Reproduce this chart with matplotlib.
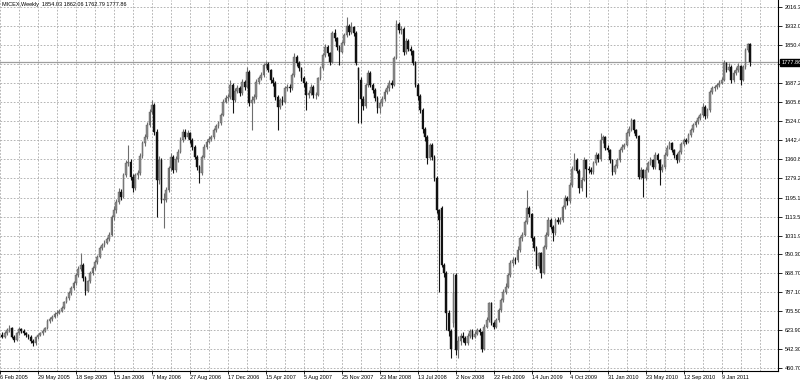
import numpy as np
import matplotlib
matplotlib.use('Agg')
import matplotlib.pyplot as plt
import matplotlib.transforms as mtransforms

# Weekly MICEX bars (index 1..316), rows of 8 bars = one grid cell
closes = [
    597, 611, 625, 633, 597, 582, 611, 628,
    622, 611, 604, 597, 580, 568, 594, 604,
    611, 622, 633, 665, 672, 683, 694, 700,
    709, 719, 747, 762, 783, 805, 826, 862,
    890, 905, 850, 795, 835, 870, 891, 919,
    941, 977, 991, 1001, 1015, 1034, 1113, 1142,
    1177, 1220, 1199, 1292, 1342, 1350, 1285, 1235,
    1292, 1299, 1374, 1428, 1457, 1507, 1565, 1593,
    1479, 1271, 1357, 1185, 1185, 1228, 1321, 1371,
    1314, 1360, 1393, 1443, 1479, 1457, 1471, 1443,
    1414, 1371, 1328, 1299, 1371, 1414, 1436, 1446,
    1454, 1486, 1503, 1514, 1550, 1608, 1622, 1629,
    1679, 1615, 1655, 1665, 1643, 1694, 1672, 1737,
    1600, 1615, 1629, 1694, 1708, 1722, 1765, 1770,
    1744, 1701, 1687, 1626, 1586, 1615, 1608, 1665,
    1672, 1665, 1722, 1801, 1773, 1751, 1708, 1687,
    1636, 1643, 1672, 1636, 1636, 1708, 1751, 1808,
    1844, 1816, 1780, 1902, 1880, 1844, 1823, 1859,
    1894, 1933, 1909, 1927, 1902, 1773, 1701, 1620,
    1590, 1680, 1730, 1680, 1660, 1625, 1580, 1600,
    1620, 1650, 1665, 1690, 1680, 1795, 1940, 1915,
    1920, 1820, 1870, 1835, 1825, 1775, 1680, 1630,
    1572, 1490, 1457, 1364, 1420, 1370, 1280, 1140,
    1100, 905, 870, 700, 620, 545, 783, 540,
    580, 600, 590, 570, 600, 620, 597, 610,
    625, 615, 545, 640, 668, 740, 654, 640,
    668, 711, 754, 790, 812, 860, 912, 927,
    925, 970, 1020, 1034, 1090, 1150, 1125, 1020,
    977, 900, 955, 870, 984, 1034, 1099, 1070,
    1041, 1099, 1091, 1099, 1156, 1192, 1180, 1250,
    1320, 1357, 1310, 1235, 1271, 1357, 1320, 1314,
    1306, 1342, 1378, 1360, 1443, 1457, 1410, 1400,
    1357, 1306, 1330, 1357, 1400, 1414, 1421, 1471,
    1490, 1529, 1486, 1460, 1285, 1314, 1280, 1314,
    1342, 1357, 1328, 1380, 1357, 1314, 1328, 1380,
    1410, 1428, 1400, 1378, 1357, 1390, 1425, 1443,
    1435, 1464, 1486, 1507, 1520, 1536, 1550, 1586,
    1545, 1572, 1650, 1665, 1670, 1679, 1690, 1701,
    1773, 1745, 1758, 1701, 1730, 1744, 1760, 1700,
    1755, 1830, 1854.03, 1777.86,
]

highs = [
    615, 620, 632, 645, 638, 602, 616, 640,
    636, 628, 616, 610, 602, 588, 600, 610,
    618, 628, 640, 672, 682, 690, 702, 710,
    716, 728, 752, 770, 792, 815, 836, 872,
    902, 955, 915, 858, 842, 880, 900, 928,
    950, 985, 1000, 1012, 1025, 1045, 1120, 1158,
    1190, 1235, 1232, 1300, 1355, 1421, 1362, 1295,
    1300, 1315, 1385, 1440, 1470, 1520, 1578, 1615,
    1600, 1490, 1375, 1365, 1215, 1240, 1330, 1385,
    1380, 1372, 1405, 1455, 1492, 1490, 1485, 1478,
    1450, 1420, 1380, 1335, 1380, 1425, 1448, 1460,
    1466, 1495, 1512, 1526, 1560, 1618, 1635, 1640,
    1701, 1688, 1665, 1680, 1675, 1705, 1702, 1758,
    1745, 1630, 1640, 1705, 1720, 1735, 1775, 1782,
    1778, 1750, 1712, 1695, 1635, 1625, 1630, 1675,
    1685, 1682, 1730, 1816, 1810, 1782, 1758, 1718,
    1695, 1660, 1685, 1680, 1650, 1715, 1760, 1818,
    1855, 1852, 1822, 1910, 1920, 1888, 1852, 1870,
    1905, 1973, 1942, 1950, 1935, 1912, 1755, 1712,
    1630, 1690, 1745, 1738, 1690, 1668, 1632, 1612,
    1632, 1662, 1678, 1702, 1700, 1805, 1960, 1950,
    1935, 1928, 1880, 1878, 1848, 1832, 1782, 1690,
    1640, 1580, 1500, 1465, 1432, 1428, 1378, 1290,
    1148, 1160, 915, 880, 712, 630, 869, 870,
    600, 612, 615, 598, 612, 630, 628, 622,
    635, 632, 620, 650, 680, 748, 745, 662,
    678, 720, 765, 800, 826, 870, 927, 940,
    938, 985, 1030, 1045, 1100, 1228, 1160, 1130,
    1028, 985, 962, 962, 992, 1045, 1110, 1108,
    1078, 1108, 1110, 1112, 1165, 1205, 1200, 1260,
    1330, 1385, 1365, 1318, 1282, 1368, 1362, 1330,
    1325, 1352, 1390, 1388, 1471, 1465, 1462, 1420,
    1405, 1362, 1340, 1365, 1410, 1425, 1432, 1480,
    1502, 1536, 1532, 1492, 1465, 1325, 1320, 1325,
    1352, 1368, 1362, 1393, 1388, 1362, 1338, 1390,
    1420, 1440, 1435, 1405, 1385, 1400, 1436, 1452,
    1452, 1472, 1495, 1516, 1530, 1545, 1560, 1600,
    1592, 1582, 1660, 1675, 1680, 1690, 1700, 1712,
    1785, 1780, 1772, 1765, 1742, 1755, 1775, 1765,
    1765, 1840, 1861, 1862.06,
]

lows = [
    590, 592, 606, 618, 590, 572, 578, 605,
    612, 603, 596, 588, 570, 556, 562, 588,
    598, 606, 616, 628, 656, 665, 676, 686,
    694, 702, 714, 740, 755, 776, 798, 818,
    852, 880, 838, 776, 788, 828, 862, 884,
    910, 935, 968, 982, 994, 1008, 1030, 1100,
    1130, 1168, 1185, 1192, 1282, 1330, 1270, 1220,
    1228, 1275, 1292, 1365, 1415, 1448, 1498, 1555,
    1465, 1113, 1255, 1170, 1063, 1175, 1220, 1310,
    1300, 1305, 1350, 1385, 1435, 1445, 1448, 1430,
    1400, 1360, 1315, 1256, 1292, 1365, 1405, 1428,
    1438, 1448, 1478, 1495, 1508, 1545, 1600, 1612,
    1620, 1557, 1605, 1645, 1630, 1635, 1660, 1665,
    1590, 1486, 1600, 1620, 1685, 1700, 1715, 1752,
    1735, 1690, 1675, 1615, 1486, 1575, 1595, 1600,
    1655, 1650, 1658, 1715, 1760, 1740, 1695, 1672,
    1572, 1625, 1635, 1625, 1620, 1630, 1700, 1745,
    1800, 1805, 1765, 1772, 1868, 1830, 1765, 1815,
    1850, 1885, 1895, 1900, 1890, 1765, 1514, 1514,
    1570, 1580, 1672, 1670, 1645, 1610, 1560, 1557,
    1590, 1612, 1640, 1655, 1665, 1675, 1790, 1905,
    1900, 1810, 1812, 1825, 1810, 1765, 1670, 1615,
    1560, 1475, 1440, 1340, 1355, 1355, 1265, 1130,
    790, 895, 855, 625, 600, 505, 640, 518,
    504, 560, 575, 560, 562, 592, 588, 590,
    602, 605, 532, 540, 632, 660, 645, 628,
    632, 660, 705, 745, 780, 805, 852, 900,
    910, 918, 962, 1010, 1028, 1082, 1110, 1010,
    965, 890, 892, 848, 865, 975, 1028, 1060,
    1010, 1035, 1080, 1082, 1092, 1148, 1165, 1172,
    1242, 1312, 1300, 1213, 1225, 1265, 1199, 1300,
    1295, 1298, 1335, 1350, 1352, 1430, 1400, 1390,
    1345, 1292, 1298, 1322, 1350, 1392, 1405, 1415,
    1462, 1482, 1475, 1450, 1275, 1275, 1199, 1272,
    1305, 1335, 1318, 1320, 1345, 1249, 1305, 1320,
    1372, 1402, 1390, 1365, 1345, 1350, 1382, 1418,
    1425, 1428, 1456, 1478, 1498, 1512, 1528, 1542,
    1535, 1538, 1565, 1642, 1655, 1662, 1672, 1682,
    1695, 1735, 1738, 1690, 1692, 1722, 1735, 1679,
    1695, 1748, 1822, 1762.79,
]

# opens follow the previous close, except the weeks that gapped
first_open = 605
gap_opens = {151: 1751, 186: 1150, 191: 654, 192: 860}

date_labels = ['6 Feb 2005', '29 May 2005', '18 Sep 2005', '15 Jan 2006', '7 May 2006',
               '27 Aug 2006', '17 Dec 2006', '15 Apr 2007', '5 Aug 2007', '25 Nov 2007',
               '23 Mar 2008', '13 Jul 2008', '2 Nov 2008', '22 Feb 2009', '14 Jun 2009',
               '4 Oct 2009', '31 Jan 2010', '23 May 2010', '12 Sep 2010', '9 Jan 2011']
price_ticks = [2016.30, 1932.05, 1850.45, 1768.85, 1687.25, 1605.65, 1524.05, 1442.45,
               1360.85, 1279.25, 1195.10, 1113.50, 1031.90, 950.30, 868.70, 787.10,
               705.50, 623.90, 542.30, 460.70]

idx = np.arange(1, len(closes) + 1)
opens = [first_open] + closes[:-1]
for k, v in gap_opens.items():
    opens[k - 1] = v
o = np.array(opens, float)
c = np.array(closes, float)
h = np.array(highs, float)
l = np.array(lows, float)
bull = c >= o

font = ['Liberation Sans Narrow', 'Liberation Sans', 'DejaVu Sans']
fs = 4.0

fig = plt.figure(figsize=(8, 3.81), dpi=100)
ax = fig.add_axes([0, 10.5 / 381, 778.3 / 800, 370.5 / 381])
ax.set_xlim(0.57, 327.86)
ax.set_ylim(451.2, 2045.1)

# grid
for gx in range(0, 329, 8):
    ax.axvline(gx, color='#a8a8a8', lw=0.6, ls=(0, (2, 2)), zorder=0)
for gy in price_ticks:
    ax.axhline(gy, color='#a8a8a8', lw=0.6, ls=(0, (2, 2)), zorder=0)

# current price line
ax.axhline(closes[-1], color='#9c9c9c', lw=0.9, zorder=1)

# candles
ax.vlines(idx[bull], l[bull], h[bull], color='#6e6e6e', lw=0.8, zorder=2)
ax.vlines(idx[~bull], l[~bull], h[~bull], color='#151515', lw=0.8, zorder=2)
body_lo = np.minimum(o, c)
body_h = np.maximum(np.abs(c - o), 2)
ax.bar(idx[bull], body_h[bull], bottom=body_lo[bull], width=0.75,
       color='#8a8a8a', edgecolor='#5a5a5a', lw=0.3, zorder=3)
ax.bar(idx[~bull], body_h[~bull], bottom=body_lo[~bull], width=0.75,
       color='#111111', edgecolor='#111111', lw=0.3, zorder=3)

# axes frame like the terminal: right and bottom only
for s in ['top', 'left']:
    ax.spines[s].set_visible(False)
for s in ['right', 'bottom']:
    ax.spines[s].set_color('black')
    ax.spines[s].set_linewidth(0.8)

ax.yaxis.tick_right()
ax.set_yticks(price_ticks)
# the 1768.85 label sits under the current-price box
ax.set_yticklabels(['' if v == 1768.85 else '%.2f' % v for v in price_ticks],
                   family=font, fontsize=fs)
ax.tick_params(axis='y', direction='out', length=3, width=0.6, pad=1.5)

ax.set_xticks(np.arange(0, 16 * len(date_labels), 16))
ax.set_xticklabels(date_labels, family=font, fontsize=fs, ha='left')
ax.tick_params(axis='x', direction='out', length=2.5, width=0.6, pad=0.8)

# price box on the right axis
trans = mtransforms.blended_transform_factory(ax.transAxes, ax.transData)
ax.text(1.004, closes[-1], '%.2f' % closes[-1], transform=trans, va='center', ha='left',
        family=font, fontsize=fs, color='white', zorder=10, clip_on=False,
        bbox=dict(boxstyle='square,pad=0.2', fc='black', ec='black'))

# header
ax.text(0.003, 0.994, 'MICEX,Weekly  %.2f %.2f %.2f %.2f' % (opens[-1], highs[-1], lows[-1], closes[-1]),
        transform=ax.transAxes, va='top', ha='left', family=font, fontsize=fs, color='black')

fig.savefig('out.png', dpi=100)
